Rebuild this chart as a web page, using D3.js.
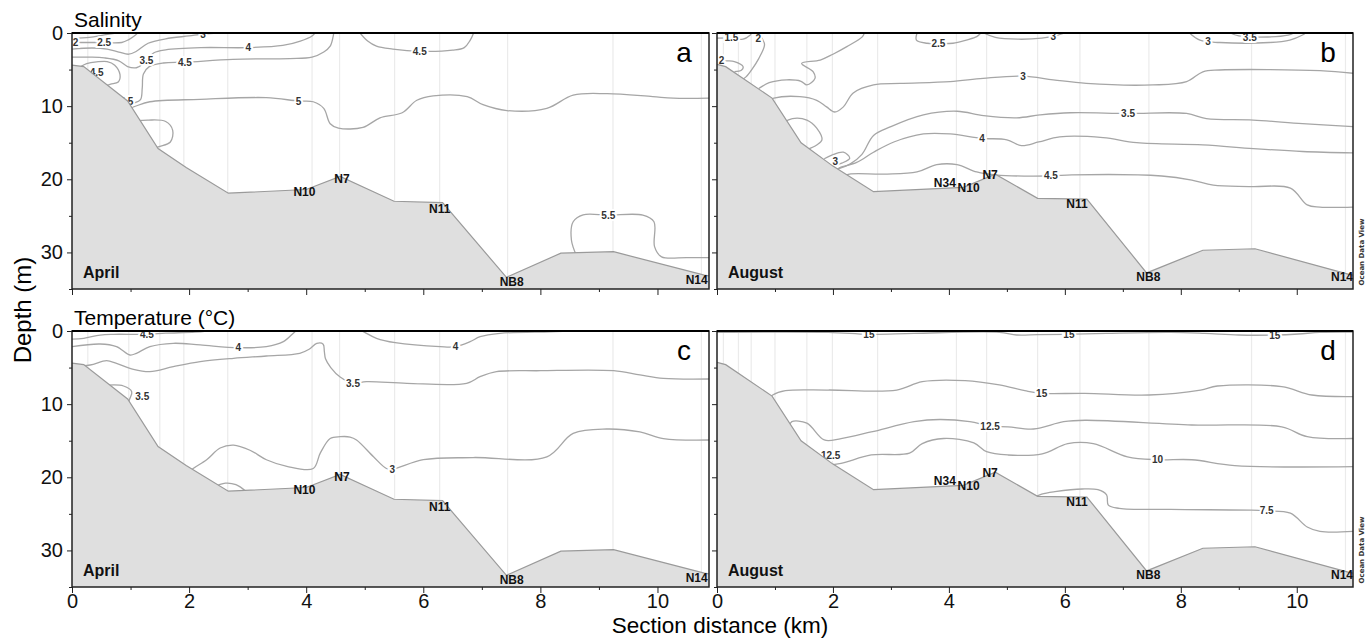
<!DOCTYPE html>
<html>
<head>
<meta charset="utf-8">
<script src="https://cdn.jsdelivr.net/npm/d3@7"></script>
<style>
  body { margin: 0; background: #fff; }
  svg { display: block; }
</style>
</head>
<body>
<div id="chart"></div>
<script>
// ---- data (km along section, depth in m) ----
const xTicks = [0, 2, 4, 6, 8, 10];
const xMinor = [1, 3, 5, 7, 9];
const yTicks = [0, 10, 20, 30];
const yMinor = [5, 15, 25, 35];
const depthMax = 35;

const bathyApril = [[0,4.4],[0.2,4.6],[0.95,9.3],[1.47,15.8],[1.95,18.4],[2.67,21.9],[4.0,21.4],[4.58,19.6],[5.5,23.0],[6.33,23.2],[7.42,33.4],[8.35,30.1],[9.25,29.9],[10.8,33.1],[10.88,33.2]];
const bathyAugust = [[0,4.3],[0.15,4.6],[0.95,8.9],[1.45,15.0],[2.0,18.2],[2.7,21.7],[4.25,21.1],[4.8,19.3],[5.53,22.6],[6.38,22.7],[7.41,32.8],[8.38,29.7],[9.28,29.5],[10.9,33.0],[10.97,33.1]];

const stationsApril = [0.27, 0.97, 1.5, 1.91, 2.66, 4.1, 4.57, 5.51, 6.28, 7.44, 9.24, 10.75];
const stationsAugust = [0.11, 0.37, 0.59, 1.0, 1.55, 1.99, 2.77, 4.13, 4.65, 5.53, 6.26, 7.45, 9.22, 10.84];

const stationNamesApril = [[3.97,21.7,"N10"],[4.61,20.0,"N7"],[6.28,24.1,"N11"],[7.51,34.0,"NB8"],[10.67,33.8,"N14"]];
const stationNamesAugust = [[3.93,20.5,"N34"],[4.34,21.1,"N10"],[4.71,19.4,"N7"],[6.21,23.4,"N11"],[7.44,33.4,"NB8"],[10.78,33.4,"N14"]];

// Salinity, April
const salinityAprilLines = [
  [[0,0.75],[0.3,0.6],[0.55,0.25],[0.75,0]],
  [[0,1.3],[0.45,1.3],[0.85,1.3],[0.97,0.9],[1.08,0.3],[1.12,0]],
  [[0,2.2],[0.35,2.05],[0.6,2.2],[0.8,2.6],[0.97,2.9],[1.1,2.5],[1.3,1.4],[1.6,0.8],[2.0,0.4],[2.24,0.15],[2.5,0]],
  [[0,3.3],[0.3,3.3],[0.55,3.4],[0.8,3.8],[0.95,4.6],[1.1,4.75],[1.2,4.3],[1.27,3.7],[1.4,2.7],[1.6,2.3],[2.2,2.0],[3.0,2.0],[3.6,1.7],[3.9,1.1],[4.1,0.4],[4.15,0]],
  [[0.15,4.6],[0.25,4.2],[0.42,3.95],[0.6,3.9],[0.73,4.4],[0.82,5.7],[0.79,6.7],[0.66,7.0],[0.58,7.2]],
  [[0.9,9.9],[1.05,9.6],[1.17,9.1],[1.2,7.5],[1.22,5.6],[1.32,4.6],[1.56,4.1],[1.93,4.0],[2.75,3.6],[3.72,3.5],[4.1,3.3],[4.3,2.6],[4.41,1.8],[4.46,0.5],[4.47,0]],
  [[4.92,0],[5.05,1.1],[5.2,1.8],[5.48,2.2],[5.94,2.5],[6.5,2.35],[6.7,2.0],[6.8,1.0],[6.86,0]],
  [[0.95,10.3],[1.05,10.1],[1.33,9.4],[2.19,9.07],[3.32,8.84],[3.87,9.3],[4.12,9.4],[4.3,10.3],[4.41,12.4],[4.55,13.0],[4.97,12.9],[5.26,11.6],[5.64,10.9],[5.89,9.2],[6.17,8.6],[6.75,8.7],[7.02,9.8],[7.43,10.6],[8.11,10.3],[8.56,8.5],[9.14,8.3],[9.92,8.7],[10.27,8.9],[10.88,8.9]],
  [[1.1,12.0],[1.3,11.9],[1.6,12.1],[1.72,13.3],[1.68,14.9],[1.5,15.5],[1.42,15.7]],
  [[8.62,30.5],[8.53,28.3],[8.56,25.8],[8.73,24.85],[9.16,24.9],[9.75,24.9],[9.94,25.8],[9.95,29.2],[10.07,30.6],[10.5,30.7],[10.88,30.7]]
];
const salinityAprilLabels = [[0.06,1.28,"2"],[0.55,1.3,"2.5"],[2.24,0.15,"3"],[1.27,3.7,"3.5"],[3.01,2.0,"4"],[0.42,5.4,"4.5"],[1.93,4.0,"4.5"],[0.93,9.3,"4.5"],[5.94,2.5,"4.5"],[3.87,9.3,"5"],[9.16,24.9,"5.5"]];

// Salinity, August
const salinityAugustLines = [
  [[0,0.7],[0.25,0.7],[0.45,0.85],[0.57,0.3],[0.6,0]],
  [[0.72,0],[0.78,0.8],[0.82,1.6],[0.72,3.5],[0.6,5.0],[0.5,6.0],[0.45,6.3]],
  [[0,3.6],[0.15,3.8],[0.3,3.9],[0.45,4.6],[0.42,5.1],[0.3,5.3]],
  [[0.72,7.6],[0.9,6.8],[1.2,6.4],[1.45,6.6],[1.55,7.1],[1.69,6.2],[1.66,5.3],[1.46,4.15],[1.78,3.7],[2.0,2.9],[2.24,1.87],[2.51,0.5],[2.54,0]],
  [[3.45,0],[3.44,0.96],[3.62,1.4],[3.82,1.45],[4.07,1.4],[4.3,0.96],[4.48,0.5],[4.55,0]],
  [[4.6,0],[4.8,0.6],[5.2,0.85],[5.6,0.7],[5.85,0.35],[6.0,0]],
  [[8.15,0],[8.33,0.98],[8.67,1.3],[9.53,1.3],[9.88,0.96],[10.1,0.27],[10.15,0]],
  [[8.85,0],[9.0,0.4],[9.5,0.55],[9.85,0.3],[9.95,0]],
  [[0.85,9.4],[0.98,8.9],[1.43,8.7],[1.72,9.2],[1.89,10.1],[2.03,10.8],[2.18,10.1],[2.35,8.2],[2.7,7.1],[3.16,6.9],[4.02,6.65],[4.59,6.2],[5.28,5.9],[5.8,6.4],[6.37,6.9],[7.52,7.1],[8.1,6.65],[8.38,5.3],[8.67,5.06],[10.4,5.15],[10.97,5.5]],
  [[1.15,12.2],[1.3,11.7],[1.55,11.9],[1.72,13.0],[1.81,14.6],[1.72,15.3],[1.56,15.9]],
  [[1.85,17.2],[1.98,16.7],[2.18,16.3],[2.29,17.1],[2.15,17.8],[1.95,18.3]],
  [[2.08,18.6],[2.3,17.9],[2.5,16.6],[2.7,14.0],[3.0,12.8],[3.56,11.2],[4.14,10.7],[4.6,11.3],[5.17,11.6],[5.57,11.2],[6.09,10.9],[7.09,11.0],[8.1,11.0],[8.44,11.7],[9.25,11.9],[10.1,12.4],[10.97,12.8]],
  [[2.05,18.8],[2.12,18.4],[2.41,17.7],[2.7,16.3],[3.05,14.9],[3.56,13.8],[4.02,13.8],[4.57,14.4],[5.0,14.6],[5.25,15.4],[5.55,14.9],[5.91,14.2],[6.66,14.3],[7.24,15.0],[8.38,15.3],[9.25,15.8],[10.1,16.2],[10.97,16.4]],
  [[2.2,20.0],[2.24,19.4],[2.87,19.3],[3.45,19.0],[3.79,18.0],[4.14,18.0],[4.48,19.0],[4.8,19.4],[5.76,19.55],[6.12,19.4],[7.67,19.55],[8.19,20.1],[8.56,20.8],[9.22,21.0],[9.89,21.2],[10.18,23.5],[10.4,23.8],[10.97,23.8]]
];
const salinityAugustLabels = [[0.25,0.6,"1.5"],[0.71,0.75,"2"],[0.08,3.8,"2"],[3.82,1.5,"2.5"],[5.8,0.45,"3"],[8.47,1.19,"3"],[9.19,0.55,"3.5"],[5.28,5.9,"3"],[2.04,17.5,"3"],[7.09,11.0,"3.5"],[4.57,14.4,"4"],[5.76,19.55,"4.5"]];

// Temperature, April
const tempAprilLines = [
  [[0,1.1],[0.2,1.0],[0.48,0.55],[0.71,0.45],[1.28,0.45],[1.6,0.3],[2.1,0.15],[2.3,0]],
  [[0,2.14],[0.48,1.78],[0.76,2.14],[0.99,3.28],[1.1,3.05],[1.33,2.14],[1.73,1.68],[2.19,1.91],[2.84,2.28],[3.32,2.14],[3.61,1.46],[3.78,0.3],[3.82,0]],
  [[4.95,0],[5.0,0.18],[5.2,1.0],[5.52,1.6],[6.29,2.14],[6.55,2.14],[6.8,1.46],[6.97,0.78],[7.31,0.32],[8.16,0.1],[8.5,0]],
  [[0,4.79],[0.31,4.65],[0.59,4.06],[0.76,4.42],[1.05,5.24],[1.33,5.56],[1.73,4.88],[2.19,4.2],[2.76,3.74],[3.32,3.42],[3.89,3.05],[4.05,2.5],[4.18,1.7],[4.29,1.8],[4.31,2.8],[4.33,3.8],[4.42,5.0],[4.58,6.3],[4.8,7.15],[5.03,6.93],[5.72,7.15],[6.74,7.15],[6.97,6.25],[7.25,5.56],[8.0,5.43],[9.25,5.43],[9.7,6.0],[10.1,6.47],[10.88,6.56]],
  [[0.62,7.4],[0.88,7.52],[1.02,8.3],[0.99,9.2],[0.97,9.6]],
  [[2.0,19.3],[2.07,18.8],[2.3,17.6],[2.53,16.0],[2.76,15.6],[3.04,16.3],[3.32,17.6],[3.67,18.5],[4.12,18.8],[4.24,16.7],[4.41,14.7],[4.58,14.45],[4.75,14.5],[4.86,14.9],[5.15,17.2],[5.37,18.8],[5.47,18.9],[6.0,17.6],[6.85,17.3],[8.11,17.2],[8.56,14.0],[9.13,13.4],[9.7,13.8],[10.1,14.7],[10.88,14.9]],
  [[2.4,21.4],[2.62,20.8],[2.8,21.0],[2.97,21.9]]
];
const tempAprilLabels = [[1.28,0.45,"4.5"],[2.84,2.28,"4"],[6.55,2.14,"4"],[4.8,7.15,"3.5"],[1.2,9.0,"3.5"],[5.47,18.9,"3"]];

// Temperature, August
const tempAugustLines = [
  [[0,0.18],[1.92,0.18],[2.62,0.45],[3.4,0.32],[4.87,0.18],[5.17,0.55],[5.53,0.5],[6.07,0.45],[6.72,0.32],[7.82,0.18],[8.41,0.32],[9.0,0.55],[9.62,0.55],[10.03,0.41],[10.4,0.18],[10.97,0.14]],
  [[0.9,9.2],[0.96,8.75],[1.18,8.16],[1.92,8.07],[3.1,8.07],[3.54,6.93],[4.28,6.79],[4.87,7.38],[5.31,8.16],[5.6,8.52],[6.34,8.52],[7.45,8.75],[8.34,8.07],[8.63,7.52],[9.74,7.61],[10.26,8.75],[10.97,8.98]],
  [[1.25,13.0],[1.29,12.4],[1.55,12.6],[1.85,14.9],[2.14,14.7],[2.66,13.8],[3.4,12.4],[3.84,12.1],[4.36,12.4],[4.71,13.0],[5.02,13.1],[5.46,13.4],[5.98,12.4],[6.35,12.2],[8.19,12.85],[9.74,13.1],[10.18,14.45],[10.97,14.7]],
  [[1.9,18.3],[2.14,18.1],[2.66,16.95],[3.32,16.7],[3.54,15.4],[3.91,14.7],[4.43,15.3],[4.65,16.5],[5.02,16.95],[5.61,16.8],[6.05,15.4],[6.49,15.4],[7.08,17.2],[7.6,17.6],[8.19,17.6],[8.93,18.4],[10.97,18.55]],
  [[5.45,22.8],[5.6,22.3],[5.83,21.97],[6.3,21.6],[6.57,21.7],[6.72,22.4],[6.75,23.8],[6.94,24.25],[7.82,24.4],[9.22,24.5],[9.48,24.6],[9.89,24.9],[10.18,26.8],[10.4,27.4],[10.97,27.4]]
];
const tempAugustLabels = [[2.62,0.45,"15"],[6.07,0.45,"15"],[9.62,0.55,"15"],[5.6,8.52,"15"],[4.71,13.0,"12.5"],[1.96,17.0,"12.5"],[7.6,17.6,"10"],[9.48,24.6,"7.5"]];

// ---- layout ----
const W = 1371, H = 639;
const cols = [{x0: 72, x1: 709, xMax: 10.88}, {x0: 717, x1: 1353, xMax: 10.97}];
const rows = [{y0: 33, y1: 289}, {y0: 331, y1: 587}];

const panels = [
  {letter: "a", col: 0, row: 0, month: "April",  lines: salinityAprilLines,  labels: salinityAprilLabels,  bathy: bathyApril,  stations: stationsApril,  names: stationNamesApril},
  {letter: "b", col: 1, row: 0, month: "August", lines: salinityAugustLines, labels: salinityAugustLabels, bathy: bathyAugust, stations: stationsAugust, names: stationNamesAugust},
  {letter: "c", col: 0, row: 1, month: "April",  lines: tempAprilLines,      labels: tempAprilLabels,      bathy: bathyApril,  stations: stationsApril,  names: stationNamesApril},
  {letter: "d", col: 1, row: 1, month: "August", lines: tempAugustLines,     labels: tempAugustLabels,     bathy: bathyAugust, stations: stationsAugust, names: stationNamesAugust}
];

const svg = d3.select("#chart").append("svg")
    .attr("width", W)
    .attr("height", H)
    .style("font-family", "'Liberation Sans', Arial, sans-serif");

const defs = svg.append("defs");

panels.forEach((p, i) => {
  const c = cols[p.col], r = rows[p.row];
  const x = d3.scaleLinear().domain([0, c.xMax]).range([c.x0, c.x1]);
  const y = d3.scaleLinear().domain([0, depthMax]).range([r.y0, r.y1]);

  defs.append("clipPath").attr("id", "clip" + i)
    .append("rect")
      .attr("x", c.x0).attr("y", r.y0)
      .attr("width", c.x1 - c.x0).attr("height", r.y1 - r.y0);

  const g = svg.append("g");
  const plot = g.append("g").attr("clip-path", `url(#clip${i})`);

  // station verticals
  plot.selectAll("line.stn")
    .data(p.stations)
    .enter().append("line")
      .attr("class", "stn")
      .attr("x1", d => x(d)).attr("x2", d => x(d))
      .attr("y1", y(0)).attr("y2", y(depthMax))
      .attr("stroke", "#ebebeb")
      .attr("stroke-width", 1.2);

  // contour lines
  const line = d3.line()
    .x(d => x(d[0]))
    .y(d => y(d[1]))
    .curve(d3.curveCatmullRom.alpha(0.5));

  plot.selectAll("path.iso")
    .data(p.lines)
    .enter().append("path")
      .attr("class", "iso")
      .attr("d", line)
      .attr("fill", "none")
      .attr("stroke", "#a6a6a6")
      .attr("stroke-width", 1.3);

  // contour labels, white halo breaks the line
  plot.selectAll("text.iso")
    .data(p.labels)
    .enter().append("text")
      .attr("class", "iso")
      .attr("x", d => x(d[0]))
      .attr("y", d => y(d[1]))
      .attr("dy", "0.35em")
      .attr("text-anchor", "middle")
      .style("font-family", "'Liberation Sans Narrow', 'Liberation Sans', sans-serif")
      .style("font-weight", "bold")
      .style("font-size", "10px")
      .attr("fill", "#333")
      .attr("stroke", "#fff")
      .attr("stroke-width", 4)
      .attr("paint-order", "stroke")
      .text(d => d[2]);

  // sea bed
  const area = d3.area()
    .x(d => x(d[0]))
    .y0(y(depthMax))
    .y1(d => y(d[1]));
  plot.append("path")
    .datum(p.bathy)
    .attr("d", area)
    .attr("fill", "#dfdfdf");
  plot.append("path")
    .datum(p.bathy)
    .attr("d", d3.line().x(d => x(d[0])).y(d => y(d[1])))
    .attr("fill", "none")
    .attr("stroke", "#9a9a9a")
    .attr("stroke-width", 1.2);

  // station names
  g.selectAll("text.name")
    .data(p.names)
    .enter().append("text")
      .attr("x", d => x(d[0]))
      .attr("y", d => y(d[1]))
      .attr("dy", "0.35em")
      .attr("text-anchor", "middle")
      .style("font-family", "'Liberation Sans Narrow', 'Liberation Sans', sans-serif")
      .style("font-weight", "bold")
      .style("font-size", "12px")
      .attr("fill", "#111")
      .text(d => d[2]);

  g.append("text")
    .attr("x", c.x0 + 11)
    .attr("y", r.y1 - 11)
    .style("font-family", "'Liberation Sans Narrow', 'Liberation Sans', sans-serif")
    .style("font-weight", "bold")
    .style("font-size", "16px")
    .attr("fill", "#111")
    .text(p.month);

  g.append("text")
    .attr("x", c.x1 - 25)
    .attr("y", r.y0 + 29)
    .attr("text-anchor", "middle")
    .style("font-size", "28px")
    .attr("fill", "#000")
    .text(p.letter);

  // axes
  const xAxis = d3.axisBottom(x).tickValues(xTicks).tickSize(6).tickPadding(1)
    .tickFormat(p.row === 1 ? d3.format("d") : "");
  const xAxisMinor = d3.axisBottom(x).tickValues(xMinor).tickSize(3).tickFormat("");
  const yAxis = d3.axisLeft(y).tickValues(yTicks).tickSize(5).tickPadding(4)
    .tickFormat(p.col === 0 ? d3.format("d") : "");
  const yAxisMinor = d3.axisLeft(y).tickValues(yMinor).tickSize(3).tickFormat("");

  [[xAxis, `translate(0,${r.y1})`], [xAxisMinor, `translate(0,${r.y1})`],
   [yAxis, `translate(${c.x0},0)`], [yAxisMinor, `translate(${c.x0},0)`]].forEach(([ax, tr]) => {
    const a = g.append("g").attr("transform", tr).call(ax);
    a.select(".domain").remove();
    a.selectAll("line").attr("stroke", "#222");
    a.selectAll("text")
      .style("font-family", "'Liberation Sans', Arial, sans-serif")
      .style("font-size", "20px")
      .attr("fill", "#111");
  });

  // frame
  g.append("rect")
    .attr("x", c.x0).attr("y", r.y0)
    .attr("width", c.x1 - c.x0).attr("height", r.y1 - r.y0)
    .attr("fill", "none")
    .attr("stroke", "#222")
    .attr("stroke-width", 1.5);
  g.append("line")
    .attr("x1", c.x0).attr("x2", c.x1)
    .attr("y1", r.y0).attr("y2", r.y0)
    .attr("stroke", "#000")
    .attr("stroke-width", 2.2);

  if (p.col === 1) {
    g.append("text")
      .attr("transform", `translate(${c.x1 + 11},${r.y1 - 37}) rotate(-90)`)
      .attr("text-anchor", "middle")
      .style("font-family", "'DejaVu Sans', sans-serif")
      .style("font-weight", "bold")
      .style("font-size", "7px")
      .attr("fill", "#333")
      .text("Ocean Data View");
  }
});

// titles
svg.append("text")
  .attr("x", 74).attr("y", 27)
  .style("font-size", "21px")
  .text("Salinity");
svg.append("text")
  .attr("x", 74).attr("y", 325)
  .style("font-size", "21px")
  .text("Temperature (°C)");

svg.append("text")
  .attr("transform", "translate(31,310) rotate(-90)")
  .attr("text-anchor", "middle")
  .style("font-size", "24px")
  .text("Depth (m)");

svg.append("text")
  .attr("x", 720).attr("y", 633)
  .attr("text-anchor", "middle")
  .style("font-size", "22.5px")
  .text("Section distance (km)");
</script>
</body>
</html>
